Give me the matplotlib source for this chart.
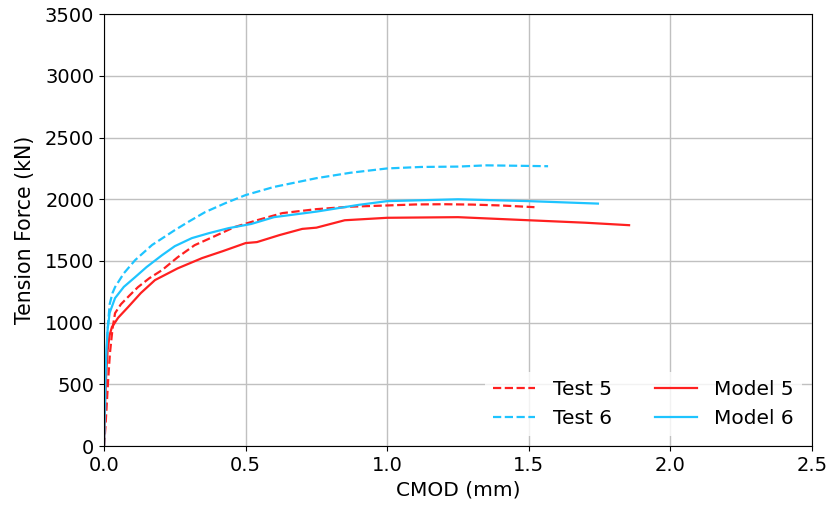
import matplotlib
matplotlib.use("Agg")
import matplotlib.pyplot as plt

# Test 5 (dashed red)
t5_x = [0.0, 0.005, 0.01, 0.015, 0.021, 0.03, 0.039, 0.06, 0.09, 0.12, 0.16, 0.205, 0.26, 0.32, 0.39, 0.46, 0.54, 0.63, 0.75, 0.87, 1.0, 1.1, 1.2, 1.3, 1.4, 1.52]
t5_y = [0, 150, 350, 550, 753, 950, 1077, 1150, 1220, 1288, 1360, 1426, 1530, 1628, 1700, 1774, 1830, 1888, 1920, 1940, 1950, 1958, 1960, 1957, 1950, 1936]

# Test 6 (dashed cyan)
t6_x = [0.0, 0.004, 0.008, 0.013, 0.02, 0.03, 0.039, 0.07, 0.11, 0.17, 0.25, 0.3, 0.357, 0.43, 0.5, 0.6, 0.75, 0.87, 1.0, 1.12, 1.25, 1.35, 1.45, 1.568]
t6_y = [0, 300, 650, 950, 1150, 1240, 1288, 1400, 1507, 1630, 1750, 1820, 1896, 1970, 2034, 2100, 2171, 2215, 2250, 2262, 2265, 2275, 2272, 2268]

# Model 5 (solid red)
m5_x = [0.0, 0.004, 0.008, 0.013, 0.02, 0.028, 0.05, 0.085, 0.13, 0.18, 0.26, 0.346, 0.42, 0.5, 0.54, 0.62, 0.7, 0.75, 0.85, 1.0, 1.25, 1.5, 1.7, 1.854]
m5_y = [0, 350, 600, 780, 900, 964, 1040, 1126, 1240, 1345, 1440, 1523, 1580, 1645, 1653, 1710, 1760, 1770, 1830, 1850, 1855, 1830, 1810, 1790]

# Model 6 (solid cyan)
m6_x = [0.0, 0.004, 0.008, 0.013, 0.02, 0.039, 0.07, 0.11, 0.15, 0.205, 0.25, 0.31, 0.37, 0.44, 0.52, 0.6, 0.75, 0.9, 1.0, 1.25, 1.5, 1.744]
m6_y = [0, 450, 750, 950, 1080, 1199, 1290, 1369, 1450, 1547, 1620, 1685, 1725, 1766, 1800, 1855, 1900, 1955, 1985, 2000, 1985, 1965]

red = "#ff2020"
cyan = "#1ec4ff"

fig = plt.figure(figsize=(8.32, 5.08), dpi=100)
ax = fig.add_axes([0.125, 0.122, 0.851, 0.85])

ax.plot(t5_x, t5_y, color=red, ls="--", lw=1.6, label="Test 5")
ax.plot(t6_x, t6_y, color=cyan, ls="--", lw=1.6, label="Test 6")
ax.plot(m5_x, m5_y, color=red, ls="-", lw=1.6, label="Model 5")
ax.plot(m6_x, m6_y, color=cyan, ls="-", lw=1.6, label="Model 6")

ax.set_xlim(0, 2.5)
ax.set_ylim(0, 3500)
ax.set_xticks([0, 0.5, 1.0, 1.5, 2.0, 2.5])
ax.set_yticks(range(0, 3501, 500))
ax.tick_params(labelsize=14)
ax.grid(True, color="#c0c0c0", lw=1.0)
ax.set_axisbelow(True)
ax.set_xlabel("CMOD (mm)", fontsize=14.5)
ax.set_ylabel("Tension Force (kN)", fontsize=14.8, labelpad=7)

leg = ax.legend(loc="lower right", ncol=2, fontsize=14.5, frameon=True,
                framealpha=0.8, edgecolor="none", columnspacing=2.15,
                handlelength=2.1, handletextpad=0.85)

fig.savefig("out.png", dpi=100)
